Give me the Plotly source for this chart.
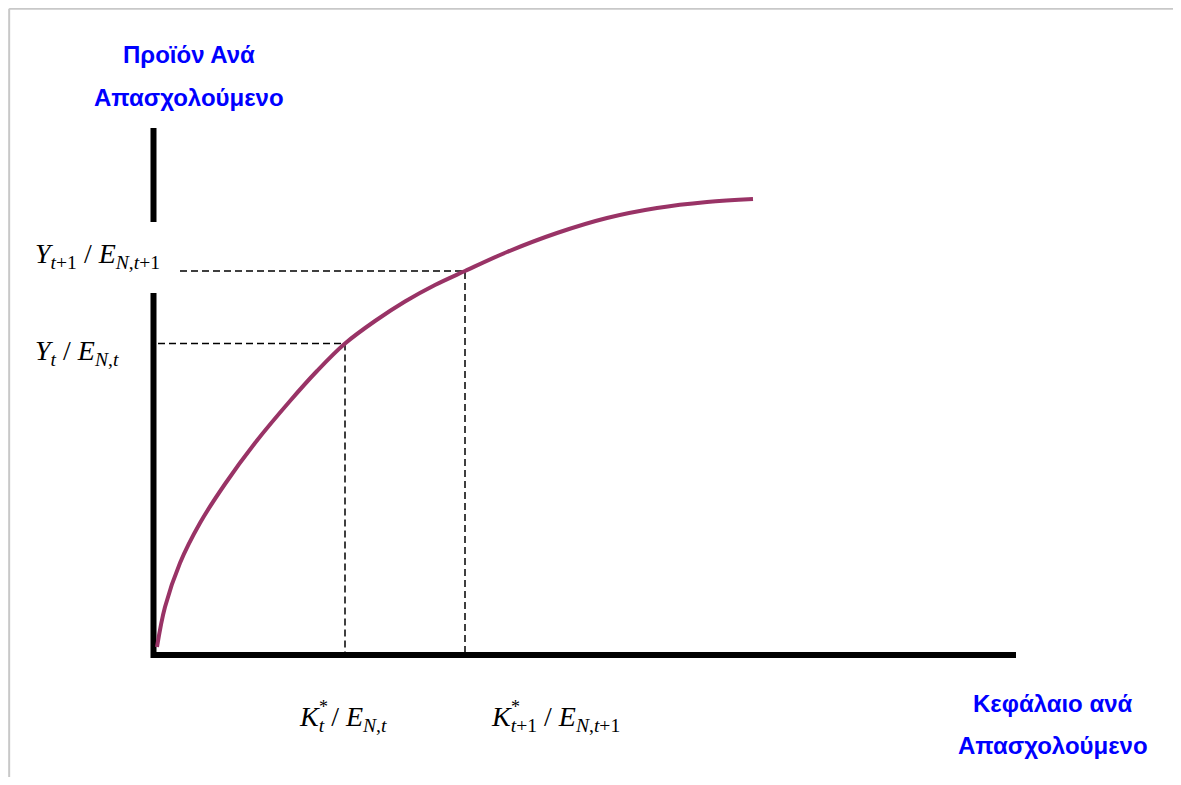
import plotly.graph_objects as go

# capital per worker (k) and output per worker (y)
k_curve = [0.02, 0.10, 0.25, 0.45, 0.70, 1.00, 1.35, 1.62, 1.90, 2.20, 2.50,
           2.80, 3.10, 3.52, 4.02, 4.52, 5.02, 5.52, 5.98]
y_curve = [0.08, 0.48, 0.92, 1.32, 1.71, 2.12, 2.54, 2.84, 3.115, 3.34, 3.535,
           3.70, 3.84, 4.03, 4.22, 4.37, 4.47, 4.53, 4.56]

# the two steady states
k_star = [1.90, 3.10]
y_star = [3.115, 3.84]
h_start = [0.03, 0.25]   # where the horizontal guides begin

x_axis_end = 8.61
y_axis_top = 5.27
y_axis_gap = [3.62, 4.33]

k_labels = ["<i>K</i><sub><i>t</i></sub> / <i>E</i><sub><i>N</i>,<i>t</i></sub>",
            "<i>K</i><sub><i>t</i>+1</sub> / <i>E</i><sub><i>N</i>,<i>t</i>+1</sub>"]
y_labels = ["<i>Y</i><sub><i>t</i></sub> / <i>E</i><sub><i>N</i>,<i>t</i></sub>",
            "<i>Y</i><sub><i>t</i>+1</sub> / <i>E</i><sub><i>N</i>,<i>t</i>+1</sub>"]

W, H = 1165, 769

fig = go.Figure()

# axes drawn as thick black lines
fig.add_trace(go.Scatter(x=[-0.03, x_axis_end], y=[0, 0], mode="lines",
                         line=dict(color="black", width=6)))
fig.add_trace(go.Scatter(x=[-0.015, -0.015, None, -0.015, -0.015],
                         y=[-0.03, y_axis_gap[0], None, y_axis_gap[1], y_axis_top],
                         mode="lines", line=dict(color="black", width=6)))

# dashed guides
for k, y, x0 in zip(k_star, y_star, h_start):
    fig.add_trace(go.Scatter(x=[x0, k, k], y=[y, y, 0], mode="lines",
                             line=dict(color="black", width=1.5, dash="7px,4px")))

# production function
fig.add_trace(go.Scatter(x=k_curve, y=y_curve, mode="lines", line_shape="spline",
                         line=dict(color="#993366", width=4, smoothing=1.0)))

serif = dict(family="Liberation Serif", size=28, color="black")
sans = dict(family="Liberation Sans", size=24, color="#0000FF")

ann = []
for y, lab, ys in zip(y_star, y_labels, [-9, 16]):
    ann.append(dict(x=-1.22, y=y, text=lab, xanchor="left", yanchor="middle",
                    yshift=ys, showarrow=False, font=serif))
for k, lab, xs in zip(k_star, k_labels, [-48, 24]):
    ann.append(dict(x=k, y=0, text=lab, xanchor="left", yanchor="middle",
                    xshift=xs, yshift=-63, showarrow=False, font=serif))
# stars above the subscripts
for k, xs in zip(k_star, [-22, 50]):
    ann.append(dict(x=k, y=0, text="*", xanchor="center", yanchor="middle",
                    xshift=xs, yshift=-52, showarrow=False,
                    font=dict(family="Liberation Serif", size=18, color="black")))


def px(xp, yp):
    return (xp - 8) / W, 1 - (yp - 8) / H


titles = [("Προϊόν Ανά", 189, 55), ("Απασχολούμενο", 189, 97),
          ("Κεφάλαιο ανά", 1053, 703), ("Απασχολούμενο", 1053, 745)]
for text, xp, yp in titles:
    ax, ay = px(xp, yp)
    ann.append(dict(x=ax, y=ay, xref="paper", yref="paper", text="<b>%s</b>" % text,
                    xanchor="center", yanchor="middle", showarrow=False, font=sans))

fig.update_layout(
    width=W, height=H,
    margin=dict(l=0, r=0, t=0, b=0),
    paper_bgcolor="white", plot_bgcolor="white",
    showlegend=False,
    annotations=ann,
    shapes=[
        dict(type="line", xref="paper", yref="paper", x0=0.001, x1=1,
             y0=0.999, y1=0.999, line=dict(color="#c8c8c8", width=2)),
        dict(type="line", xref="paper", yref="paper", x0=0.001, x1=0.001,
             y0=0, y1=0.999, line=dict(color="#c8c8c8", width=2)),
    ],
)
fig.update_xaxes(range=[-1.47, 10.18], visible=False)
fig.update_yaxes(range=[-1.22, 6.47], visible=False)

fig.write_html("out.html")
